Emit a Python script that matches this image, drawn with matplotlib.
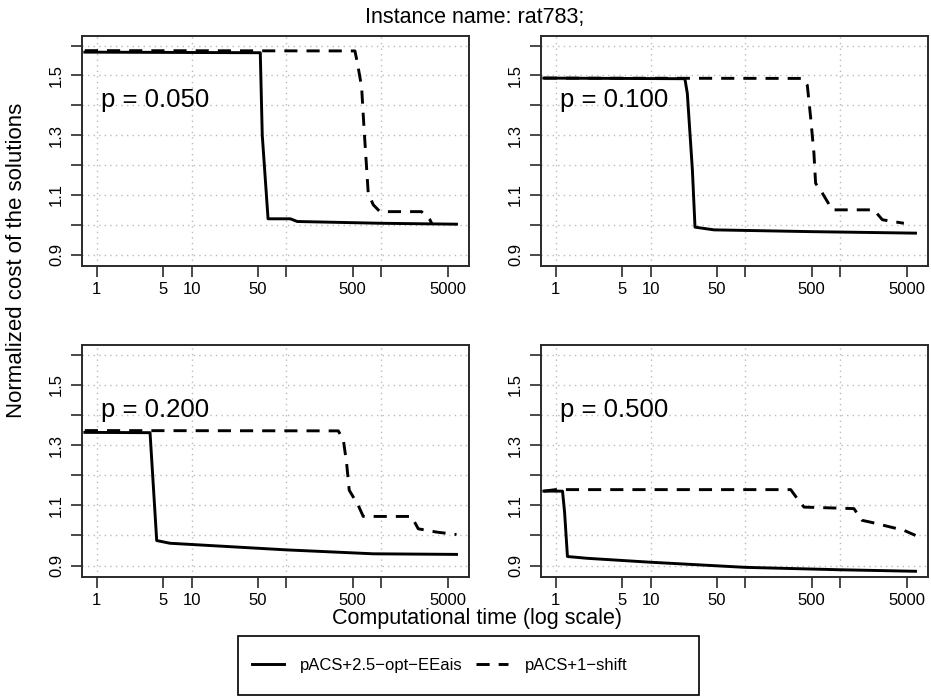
import matplotlib
matplotlib.use("Agg")
import matplotlib.pyplot as plt
from matplotlib.patches import Rectangle
import numpy as np

plt.rcParams['font.family'] = ['Liberation Sans', 'DejaVu Sans']

# ---- data (time, normalized cost) ----
p_labels = ["p = 0.050", "p = 0.100", "p = 0.200", "p = 0.500"]

t_solid_050 = [0.75, 53, 55.6, 64, 110, 130, 1000, 6200]
c_solid_050 = [1.578, 1.576, 1.30, 1.020, 1.020, 1.011, 1.005, 1.002]
t_dash_050 = [0.75, 527, 562, 620, 656, 728, 822, 967, 2655, 3250, 3400]
c_dash_050 = [1.583, 1.582, 1.539, 1.461, 1.328, 1.106, 1.067, 1.044, 1.044, 1.017, 1.005]

t_solid_100 = [0.75, 23, 24.4, 27.6, 29.4, 46.6, 500, 6200]
c_solid_100 = [1.491, 1.489, 1.440, 1.183, 0.992, 0.983, 0.977, 0.972]
t_dash_100 = [0.75, 398, 449, 486, 527, 549, 646, 824, 2260, 2770, 3250, 4680]
c_dash_100 = [1.491, 1.490, 1.467, 1.361, 1.240, 1.139, 1.106, 1.050, 1.050, 1.017, 1.013, 1.005]

t_solid_200 = [0.75, 3.65, 4.29, 5.92, 100, 822, 6200]
c_solid_200 = [1.342, 1.341, 0.983, 0.974, 0.952, 0.939, 0.937]
t_dash_200 = [0.75, 352, 398, 431, 459, 571, 645, 2085, 2450, 3830, 6200]
c_dash_200 = [1.348, 1.347, 1.317, 1.239, 1.150, 1.100, 1.063, 1.063, 1.022, 1.011, 1.003]

t_solid_500 = [0.75, 1.18, 1.24, 1.33, 2.16, 10, 100, 1000, 6200]
c_solid_500 = [1.147, 1.147, 1.078, 0.930, 0.924, 0.911, 0.894, 0.886, 0.881]
t_dash_500 = [0.75, 1.0, 300, 352, 414, 1390, 1700, 2085, 4680, 6200]
c_dash_500 = [1.147, 1.152, 1.152, 1.122, 1.094, 1.089, 1.050, 1.044, 1.017, 1.000]

solid_series = [(t_solid_050, c_solid_050), (t_solid_100, c_solid_100),
                (t_solid_200, c_solid_200), (t_solid_500, c_solid_500)]
dash_series = [(t_dash_050, c_dash_050), (t_dash_100, c_dash_100),
               (t_dash_200, c_dash_200), (t_dash_500, c_dash_500)]

x_ticks = [1, 5, 10, 50, 100, 500, 1000, 5000]
x_ticklabels = ["1", "5", "10", "50", "", "500", "", "5000"]
y_ticks = [0.9, 1.0, 1.1, 1.2, 1.3, 1.4, 1.5, 1.6]
y_ticklabels = ["0.9", "", "1.1", "", "1.3", "", "1.5", ""]
x_grid = [1, 10, 100, 1000]

legend_labels = ["pACS+2.5\u2212opt\u2212EEais", "pACS+1\u2212shift"]

W, H = 931, 696
fig = plt.figure(figsize=(W / 100, H / 100), dpi=100)

positions = [
    (82 / W, 1 - 266 / H, 387 / W, 230 / H),
    (541 / W, 1 - 266 / H, 387 / W, 230 / H),
    (82 / W, 1 - 577 / H, 387 / W, 232 / H),
    (541 / W, 1 - 577 / H, 387 / W, 232 / H),
]

spine_col = "#2a2a2a"
dash_style = (0, (4.5, 3.1))
handles = None
for i, pos in enumerate(positions):
    ax = fig.add_axes(pos)
    ax.set_xscale("log")
    ax.set_xlim(0.70, 8400)
    ax.set_ylim(0.862, 1.632)
    for y in y_ticks:
        ax.axhline(y, color="#bbbbbb", lw=1.0, ls=(0, (1, 3)), zorder=0)
    for x in x_grid:
        ax.axvline(x, color="#bbbbbb", lw=1.0, ls=(0, (1, 3)), zorder=0)
    ts, cs = solid_series[i]
    td, cd = dash_series[i]
    l1, = ax.plot(ts, cs, color="black", lw=2.1, solid_joinstyle="round")
    l2, = ax.plot(td, cd, color="black", lw=2.1, ls=dash_style)
    if handles is None:
        handles = [l1, l2]
    ax.set_xticks(x_ticks)
    ax.set_xticklabels(x_ticklabels, fontsize=12)
    ax.xaxis.set_minor_locator(matplotlib.ticker.NullLocator())
    ax.set_yticks(y_ticks)
    ax.set_yticklabels(y_ticklabels, fontsize=12, rotation=90, va="center")
    ax.tick_params(axis="both", direction="out", length=8, width=1.2,
                   color=spine_col, pad=5)
    ax.tick_params(axis="x", pad=3.5)
    for s in ax.spines.values():
        s.set_color(spine_col)
        s.set_linewidth(1.4)
    ax.text(0.05, 0.69, p_labels[i], transform=ax.transAxes,
            fontsize=18.5, va="baseline", ha="left")

fig.text(475 / W, 1 - 23 / H, "Instance name: rat783;", ha="center",
         va="baseline", fontsize=15.5)
fig.text(17 / W, 1 - 260 / H, "Normalized cost of the solutions", ha="center",
         va="center", rotation=90, fontsize=16)
fig.text(477 / W, 1 - 624 / H, "Computational time (log scale)", ha="center",
         va="baseline", fontsize=15.5)

fig.patches.append(Rectangle((238 / W, 1 / H), 461 / W, 59 / H,
                             transform=fig.transFigure, fill=False,
                             edgecolor="black", lw=1.2))
fig.legend(handles, legend_labels, loc="center left",
           bbox_to_anchor=(252 / W, 1 - 665.5 / H), ncol=2, frameon=False,
           borderpad=0, borderaxespad=0, handlelength=1.9, handletextpad=1.0,
           columnspacing=0.8, prop={"size": 12})

fig.savefig("out.png", dpi=100)
